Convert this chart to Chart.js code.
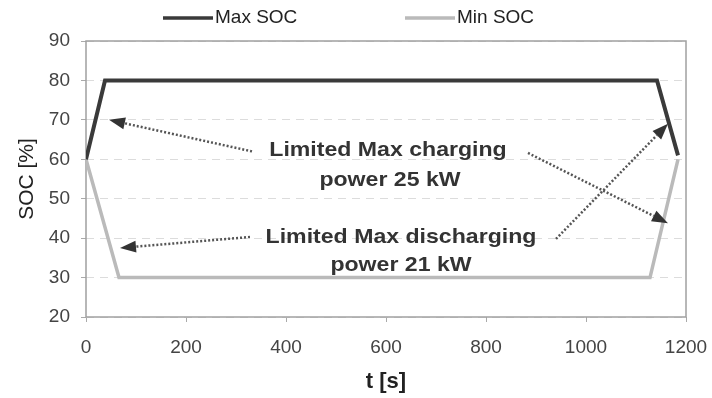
<!DOCTYPE html>
<html>
<head>
<meta charset="utf-8">
<script src="https://cdn.jsdelivr.net/npm/chart.js@4.4.1/dist/chart.umd.min.js"></script>
<style>
  html, body { margin: 0; padding: 0; background: #fff; }
  #wrap { width: 712px; height: 398px; }
</style>
</head>
<body>
<div id="wrap"><canvas id="c"></canvas></div>
<script>
// series (t in s, SOC in %)
const maxT = [0, 38, 1142, 1184];
const maxSoc = [60, 80, 80, 61];
const minT = [0, 66, 1128, 1184];
const minSoc = [60, 30, 30, 60];

const xTicks = [0, 200, 400, 600, 800, 1000, 1200];
const yTicks = [20, 30, 40, 50, 60, 70, 80, 90];

// annotation text, centre in data units
const noteText = ['Limited Max charging', 'power 25 kW', 'Limited Max discharging', 'power 21 kW'];
const noteX = [604, 608, 630, 630];
const noteY = [62.4, 54.7, 40.3, 33.2];

// dotted arrows, tail -> head in data units
const arrowFromX = [332, 884, 328, 940];
const arrowFromY = [62, 61.6, 40.3, 39.8];
const arrowToX = [46, 1164, 68, 1164];
const arrowToY = [70, 43.8, 37.5, 69];

const font = '"Liberation Sans", Arial, sans-serif';

let toXY = (t, s) => t.map((v, i) => ({ x: v, y: s[i] }));

// box round the plot area
let frame = {
    id: 'frame',
    beforeDatasetsDraw(chart) {
        let a = chart.chartArea, ctx = chart.ctx;
        ctx.save();
        ctx.strokeStyle = '#a0a0a0';
        ctx.lineWidth = 1.5;
        ctx.strokeRect(a.left, a.top, a.right - a.left, a.bottom - a.top);
        ctx.restore();
    }
};

// arrows and text notes
let notes = {
    id: 'notes',
    afterDatasetsDraw(chart) {
        let ctx = chart.ctx, sx = chart.scales.x, sy = chart.scales.y;
        ctx.save();
        for (let i = 0; i < arrowFromX.length; i++) {
            let x1 = sx.getPixelForValue(arrowFromX[i]), y1 = sy.getPixelForValue(arrowFromY[i]);
            let x2 = sx.getPixelForValue(arrowToX[i]), y2 = sy.getPixelForValue(arrowToY[i]);
            let ang = Math.atan2(y2 - y1, x2 - x1);
            let hl = 16, hw = 6;
            let bx = x2 - hl * Math.cos(ang), by = y2 - hl * Math.sin(ang);
            ctx.strokeStyle = '#555';
            ctx.lineWidth = 2.5;
            ctx.setLineDash([2, 2]);
            ctx.beginPath();
            ctx.moveTo(x1, y1);
            ctx.lineTo(bx, by);
            ctx.stroke();
            ctx.setLineDash([]);
            ctx.fillStyle = '#333';
            ctx.beginPath();
            ctx.moveTo(x2, y2);
            ctx.lineTo(bx + hw * Math.sin(ang), by - hw * Math.cos(ang));
            ctx.lineTo(bx - hw * Math.sin(ang), by + hw * Math.cos(ang));
            ctx.closePath();
            ctx.fill();
        }
        ctx.fillStyle = '#333';
        ctx.font = 'bold 21px ' + font;
        ctx.textAlign = 'center';
        ctx.textBaseline = 'middle';
        noteText.forEach((t, i) => {
            ctx.save();
            ctx.translate(sx.getPixelForValue(noteX[i]), sy.getPixelForValue(noteY[i]));
            ctx.scale(1.1, 1);
            ctx.fillText(t, 0, 0);
            ctx.restore();
        });
        ctx.restore();
    }
};

// legend drawn above the plot
let topLegend = {
    id: 'topLegend',
    afterDraw(chart) {
        let ctx = chart.ctx;
        let startX = [163, 405];
        ctx.save();
        ctx.font = '19px ' + font;
        ctx.textBaseline = 'middle';
        chart.data.datasets.forEach((ds, i) => {
            ctx.strokeStyle = ds.borderColor;
            ctx.lineWidth = 3.5;
            ctx.beginPath();
            ctx.moveTo(startX[i], 18);
            ctx.lineTo(startX[i] + 50, 18);
            ctx.stroke();
            ctx.fillStyle = '#222';
            ctx.fillText(ds.label, startX[i] + 52, 18);
        });
        ctx.restore();
    }
};

let config = {
    type: 'scatter',
    data: {
        datasets: [{
            label: 'Max SOC',
            data: toXY(maxT, maxSoc),
            showLine: true,
            borderColor: '#3a3a3a',
            borderWidth: 4,
            pointRadius: 0,
            tension: 0
        }, {
            label: 'Min SOC',
            data: toXY(minT, minSoc),
            showLine: true,
            borderColor: '#bababa',
            borderWidth: 3.5,
            pointRadius: 0,
            tension: 0
        }]
    },
    options: {
        responsive: true,
        maintainAspectRatio: false,
        animation: false,
        layout: { padding: { top: 41, right: 26, left: 0, bottom: 0 } },
        plugins: {
            legend: { display: false },
            tooltip: { enabled: false }
        },
        scales: {
            x: {
                type: 'linear',
                min: 0,
                max: 1200,
                afterFit: s => { s.height = 81; s.paddingRight = 0; s.paddingLeft = 0; },
                afterBuildTicks: s => { s.ticks = xTicks.map(v => ({ value: v })); },
                grid: { drawOnChartArea: false, color: '#aaa', tickLength: 5 },
                border: { display: false },
                ticks: {
                    color: '#444',
                    font: { family: font, size: 19 },
                    padding: 14,
                    callback: v => String(v)
                },
                title: {
                    display: true,
                    text: 't [s]',
                    color: '#222',
                    font: { family: font, size: 22, weight: 'bold' },
                    padding: { top: 0, bottom: 3 }
                }
            },
            y: {
                min: 20,
                max: 90,
                afterFit: s => { s.width = 86; },
                afterBuildTicks: s => { s.ticks = yTicks.map(v => ({ value: v })); },
                grid: { color: '#dcdcdc', tickColor: '#aaa', tickLength: 5, tickBorderDash: [] },
                border: { display: false, dash: [8, 6] },
                ticks: { color: '#444', font: { family: font, size: 19 }, padding: 11 },
                title: {
                    display: true,
                    text: 'SOC [%]',
                    color: '#222',
                    font: { family: font, size: 21 },
                    padding: { top: 15, bottom: 0 }
                }
            }
        }
    },
    plugins: [frame, notes, topLegend]
};

let chart = new Chart(document.getElementById('c'), config);
</script>
</body>
</html>
